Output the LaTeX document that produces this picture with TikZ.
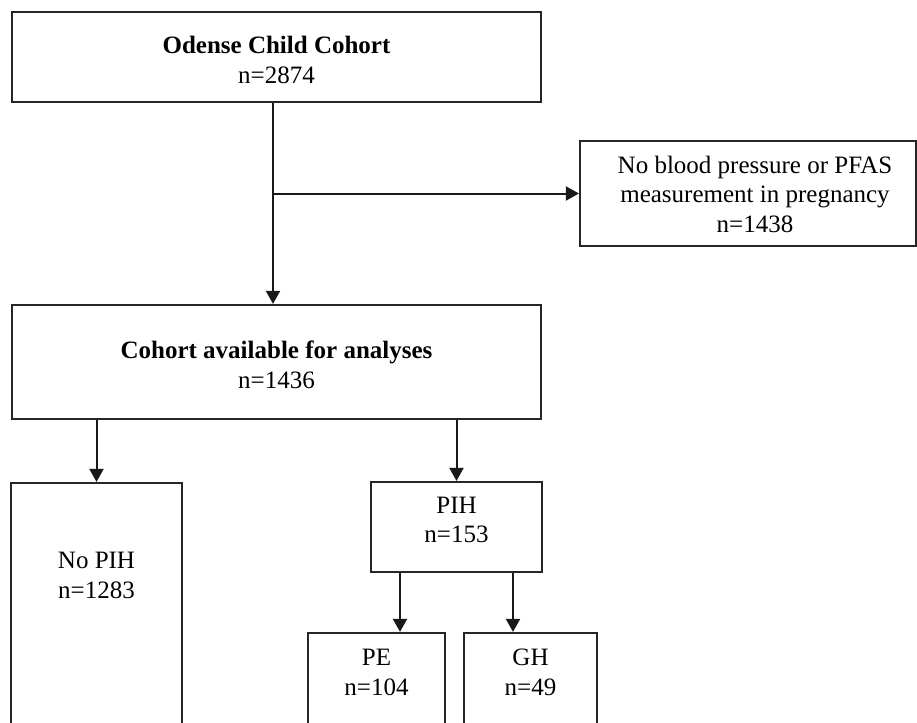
\documentclass[tikz,border=0pt]{standalone}
\usepackage{fontspec}
\setmainfont{Liberation Serif}
\usetikzlibrary{arrows.meta,calc}
\begin{document}
\begin{tikzpicture}[x=1pt,y=-1pt,
  box/.style={draw, line width=2.2pt, inner sep=0pt, rectangle, color=black!85},
  txt/.style={align=center, inner sep=0pt, font=\fontsize{25}{29.5}\selectfont},
  arr/.style={line width=2pt, draw=black!90, -{Triangle[length=13pt,width=14pt]}}]
\clip (0,0) rectangle (917,722);
% boxes
\node[box, minimum width=529pt, minimum height=90pt] (top) at (276.5,57) {};
\node[box, minimum width=336pt, minimum height=105pt] (box3) at (748,193.5) {};
\node[box, minimum width=529pt, minimum height=114pt] (box2) at (276.5,362) {};
\node[box, minimum width=171pt, minimum height=317pt] (nopih) at (96.5,641.5) {};
\node[box, minimum width=171pt, minimum height=90pt] (pih) at (456.5,527) {};
\node[box, minimum width=137pt, minimum height=167pt] (pe) at (376.5,716.5) {};
\node[box, minimum width=133pt, minimum height=167pt] (gh) at (530.5,716.5) {};
% texts
\node[txt] (toptxt) at (276.5,60) {\textbf{Odense Child Cohort}\\n=2874};
\node[txt] (box3txt) at (755,194) {No blood pressure or PFAS\\measurement in pregnancy\\n=1438};
\node[txt] (box2txt) at (276.5,365) {\textbf{Cohort available for analyses}\\n=1436};
\node[txt] (nopihtxt) at (96.5,575.5) {No PIH\\n=1283};
\node[txt] (pihtxt) at (456.5,520) {PIH\\n=153};
\node[txt] (petxt) at (376.5,672.5) {PE\\n=104};
\node[txt] (ghtxt) at (530.5,672.5) {GH\\n=49};
% connectors
\coordinate (j) at ([xshift=-3.5pt]top.south |- box3.west);
\draw[arr] ([xshift=-3.5pt]top.south) -- ([xshift=-3.5pt]top.south |- box2.north);
\draw[arr] (j) -- (box3.west);
\draw[arr] (box2.south -| nopih.north) -- (nopih.north);
\draw[arr] (box2.south -| pih.north) -- (pih.north);
\draw[arr] ([xshift=23.5pt]pe.north |- pih.south) -- ([xshift=23.5pt]pe.north);
\draw[arr] ([xshift=-17.5pt]gh.north |- pih.south) -- ([xshift=-17.5pt]gh.north);
\end{tikzpicture}
\end{document}
